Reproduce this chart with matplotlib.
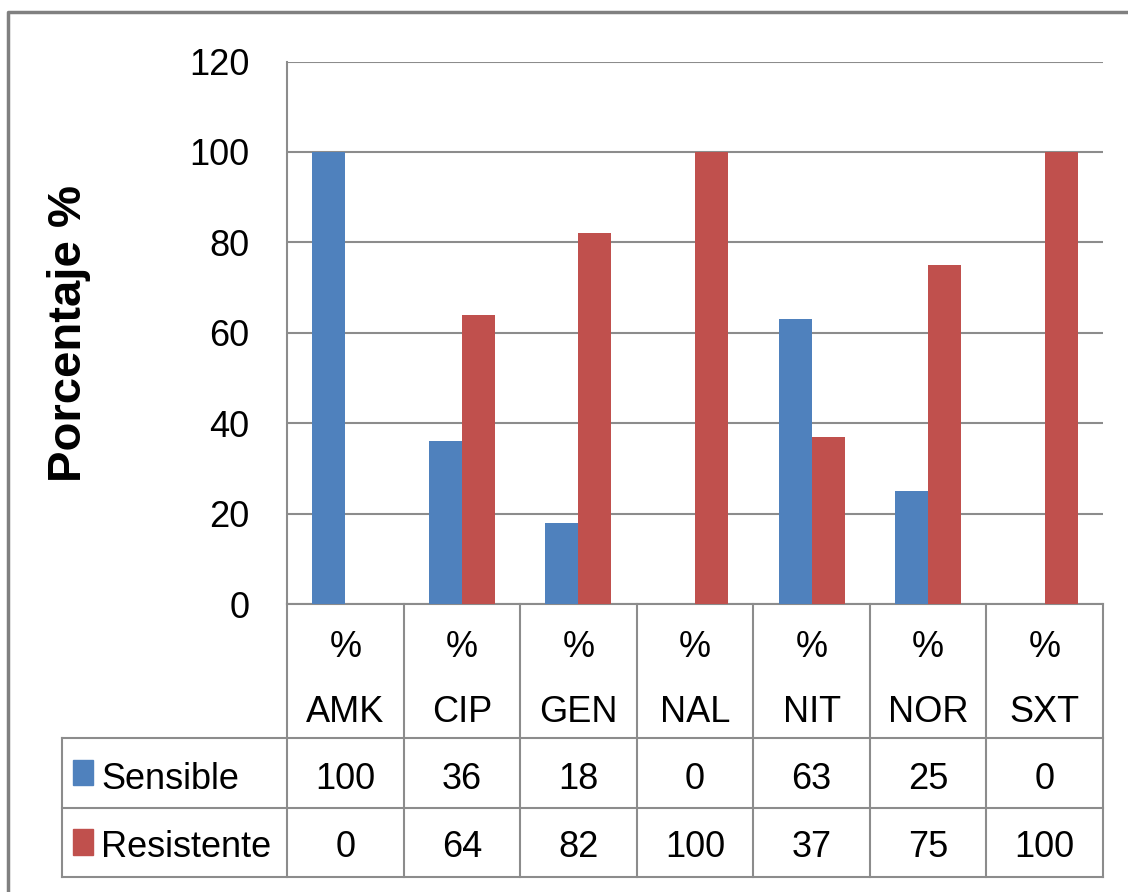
import numpy as np
import matplotlib
matplotlib.use('Agg')
import matplotlib.pyplot as plt
from matplotlib.transforms import Affine2D, blended_transform_factory
from matplotlib.patches import Rectangle
from matplotlib.lines import Line2D

categories = ['AMK', 'CIP', 'GEN', 'NAL', 'NIT', 'NOR', 'SXT']
sensible = [100, 36, 18, 0, 63, 25, 0]
resistente = [0, 64, 82, 100, 37, 75, 100]
series_names = ['Sensible', 'Resistente']
colors = ['#4F81BD', '#C0504D']
yticks = [0, 20, 40, 60, 80, 100, 120]

W, H = 1128, 892
grid_c = '#8C8C8C'
fs = 26

plt.rcParams['font.family'] = ['Liberation Sans', 'DejaVu Sans']

fig = plt.figure(figsize=(W / 100, H / 100), dpi=100)
# pixel coords (origin top-left) -> figure
px = Affine2D().scale(1 / W, -1 / H).translate(0, 1) + fig.transFigure

left, right, top, bottom = 287, 1103, 61.6, 604
ax = fig.add_axes([left / W, 1 - bottom / H, (right - left) / W, (bottom - top) / H])

x = np.arange(len(categories))
bw = 0.283
ax.bar(x - bw / 2, sensible, bw, color=colors[0], zorder=3)
ax.bar(x + bw / 2, resistente, bw, color=colors[1], zorder=3)

ax.set_xlim(-0.5, len(categories) - 0.5)
ax.set_ylim(0, 120)
ax.set_yticks(yticks)
ax.set_yticklabels([str(v) for v in yticks], fontsize=fs)
ax.set_xticks([])
ax.tick_params(axis='y', length=0, pad=27)
ax.yaxis.grid(True, color=grid_c, lw=1.5, zorder=0)
for s in ['top', 'right']:
    ax.spines[s].set_visible(False)
for s in ['left', 'bottom']:
    ax.spines[s].set_color(grid_c)
    ax.spines[s].set_linewidth(1.5)

fig.text(69, 334, 'Porcentaje %', transform=px, rotation=90, fontsize=34,
         fontweight='bold', ha='center', va='center')

# data table under the axis
bt = blended_transform_factory(ax.transData, px)
n = len(categories)
edges = np.arange(n + 1) - 0.5
row_y = [604, 738, 808, 877]
lab_left = (62 - left) / ((right - left) / n) - 0.5


def line(xs, ys):
    fig.add_artist(Line2D(xs, ys, transform=bt, color=grid_c, lw=1.5, clip_on=False))


for e in edges:
    line([e, e], [604, 877])
for y in row_y[1:]:
    line([lab_left, edges[-1]], [y, y])
line([lab_left, lab_left], [738, 877])

for i, c in enumerate(categories):
    fig.text(i, 657, '%', transform=bt, ha='center', va='baseline', fontsize=fs)
    fig.text(i, 722, c, transform=bt, ha='center', va='baseline', fontsize=fs)
    fig.text(i, 789, str(sensible[i]), transform=bt, ha='center', va='baseline', fontsize=fs)
    fig.text(i, 857, str(resistente[i]), transform=bt, ha='center', va='baseline', fontsize=fs)

for name, col, (y0, y1, base) in zip(series_names, colors, [(760, 785, 789), (829, 855, 857)]):
    fig.add_artist(Rectangle((73, y0), 20, y1 - y0, transform=px, color=col))
    fig.text(101, base, name, transform=px, ha='left', va='baseline', fontsize=fs)

# outer chart border (left and top edges visible)
fig.add_artist(Line2D([8, 8, W], [H, 12, 12], transform=px, color='#808080', lw=2.5))

fig.savefig('out.png', dpi=100)
